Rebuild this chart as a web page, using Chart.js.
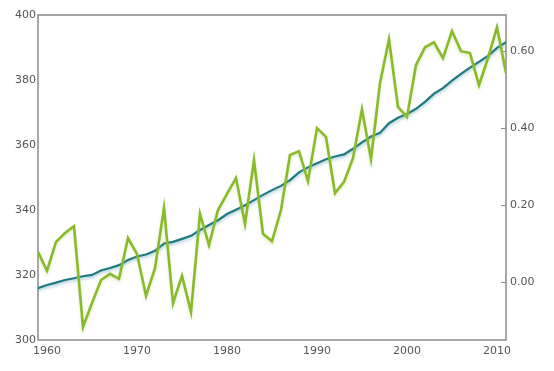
<!DOCTYPE html>
<html>
<head>
<meta charset="utf-8">
<script src="https://cdn.jsdelivr.net/npm/chart.js@4"></script>
<style>
  html, body { margin: 0; padding: 0; background: #fff; }
  #wrap { width: 554px; height: 371px; }
</style>
</head>
<body>
<div id="wrap"><canvas id="climateChart" width="554" height="371"></canvas></div>
<script>
const years = [1959, 1960, 1961, 1962, 1963, 1964, 1965, 1966, 1967, 1968,
    1969, 1970, 1971, 1972, 1973, 1974, 1975, 1976, 1977, 1978,
    1979, 1980, 1981, 1982, 1983, 1984, 1985, 1986, 1987, 1988,
    1989, 1990, 1991, 1992, 1993, 1994, 1995, 1996, 1997, 1998,
    1999, 2000, 2001, 2002, 2003, 2004, 2005, 2006, 2007, 2008,
    2009, 2010, 2011];

// CO2 (ppm), left axis
const co2 = [315.97, 316.91, 317.64, 318.45, 318.99, 319.62, 320.04, 321.38, 322.16, 323.04,
    324.62, 325.68, 326.32, 327.45, 329.68, 330.18, 331.11, 332.04, 333.83, 335.40,
    336.84, 338.75, 340.11, 341.45, 343.05, 344.65, 346.12, 347.42, 349.19, 351.57,
    353.12, 354.39, 355.61, 356.45, 357.10, 358.83, 360.82, 362.61, 363.73, 366.70,
    368.38, 369.55, 371.14, 373.28, 375.80, 377.52, 379.80, 381.90, 383.79, 385.60,
    387.43, 389.90, 391.65];

// temperature anomaly, right axis
const tempAnomaly = [0.078, 0.029, 0.104, 0.127, 0.145, -0.117, -0.055, 0.005, 0.021, 0.008,
    0.114, 0.073, -0.036, 0.036, 0.192, -0.055, 0.016, -0.078, 0.177, 0.096,
    0.187, 0.229, 0.270, 0.151, 0.317, 0.125, 0.106, 0.187, 0.330, 0.340,
    0.262, 0.400, 0.377, 0.231, 0.260, 0.322, 0.449, 0.319, 0.517, 0.631,
    0.455, 0.429, 0.564, 0.610, 0.623, 0.582, 0.652, 0.600, 0.595, 0.512,
    0.582, 0.662, 0.543];

const yearTicks = [1960, 1970, 1980, 1990, 2000, 2010];
const co2Ticks = [300, 320, 340, 360, 380, 400];
const tempTicks = [0.0, 0.2, 0.4, 0.6];

const tickFont = { family: 'DejaVu Sans', size: 11 };
const tickColor = '#555';

// frame round the plot + short inward ticks on the right axis
const framePlugin = {
    id: 'frame',
    beforeDatasetsDraw(chart) {
        const { ctx, chartArea: a } = chart;
        ctx.save();
        ctx.strokeStyle = '#8a8a8a';
        ctx.lineWidth = 1.5;
        ctx.strokeRect(a.left, a.top, a.right - a.left, a.bottom - a.top);
        const yr = chart.scales.yTemp;
        ctx.lineWidth = 1;
        ctx.beginPath();
        yr.ticks.forEach(t => {
            const y = Math.round(yr.getPixelForValue(t.value)) + 0.5;
            ctx.moveTo(a.right - 5, y);
            ctx.lineTo(a.right, y);
        });
        ctx.stroke();
        ctx.restore();
    }
};

// soft shadow under each line
const shadowPlugin = {
    id: 'lineShadow',
    beforeDatasetDraw(chart, args) {
        const ctx = chart.ctx;
        ctx.save();
        ctx.shadowColor = args.index === 0 ? 'rgba(60,140,170,0.45)' : 'rgba(170,200,90,0.35)';
        ctx.shadowBlur = 3;
        ctx.shadowOffsetY = 2;
    },
    afterDatasetDraw(chart) {
        chart.ctx.restore();
    }
};

const ctx = document.getElementById('climateChart').getContext('2d');

new Chart(ctx, {
    type: 'line',
    data: {
        datasets: [{
            label: 'CO2',
            data: years.map((yr, i) => ({ x: yr, y: co2[i] })),
            yAxisID: 'yCo2',
            borderColor: '#1f7a80',
            borderWidth: 2.2,
            pointRadius: 0,
            tension: 0,
            order: 2
        }, {
            label: 'Temperature',
            data: years.map((yr, i) => ({ x: yr, y: tempAnomaly[i] })),
            yAxisID: 'yTemp',
            borderColor: '#88ba2c',
            borderWidth: 2.6,
            pointRadius: 0,
            tension: 0,
            order: 1
        }]
    },
    options: {
        responsive: false,
        animation: false,
        layout: { padding: { top: 15, left: 0, right: 0, bottom: 0 } },
        scales: {
            x: {
                type: 'linear',
                min: 1959,
                max: 2011,
                grid: { display: false, drawTicks: false },
                border: { display: false },
                afterBuildTicks: axis => { axis.ticks = yearTicks.map(v => ({ value: v })); },
                afterFit: axis => { axis.height = 31; },
                ticks: {
                    font: tickFont,
                    color: tickColor,
                    padding: 5,
                    maxRotation: 0,
                    callback: v => String(v)
                }
            },
            yCo2: {
                type: 'linear',
                position: 'left',
                min: 300,
                max: 400,
                grid: { display: false, drawTicks: false },
                border: { display: false },
                afterBuildTicks: axis => { axis.ticks = co2Ticks.map(v => ({ value: v })); },
                afterFit: axis => { axis.width = 38; },
                ticks: {
                    font: tickFont,
                    color: tickColor,
                    padding: 2,
                    callback: v => String(v)
                }
            },
            yTemp: {
                type: 'linear',
                position: 'right',
                min: -0.151,
                max: 0.694,
                grid: { display: false, drawTicks: false },
                border: { display: false },
                afterBuildTicks: axis => { axis.ticks = tempTicks.map(v => ({ value: v })); },
                afterFit: axis => { axis.width = 48; },
                ticks: {
                    font: tickFont,
                    color: tickColor,
                    padding: 4,
                    callback: v => Number(v).toFixed(2)
                }
            }
        },
        plugins: {
            legend: { display: false },
            tooltip: { enabled: false }
        }
    },
    plugins: [framePlugin, shadowPlugin]
});
</script>
</body>
</html>
